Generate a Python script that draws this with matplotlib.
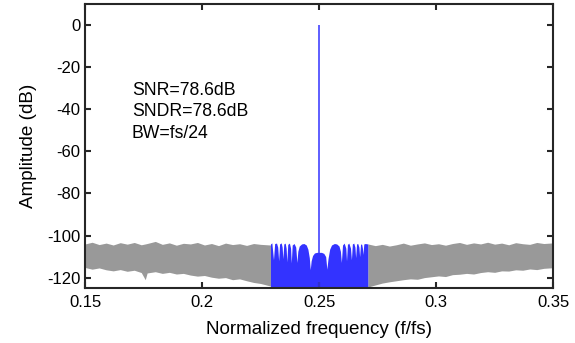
"""Output spectrum of the modulator: out-of-band noise in gray, signal band in blue."""

import matplotlib

matplotlib.use("Agg")

import matplotlib.pyplot as plt

plt.rcParams["font.family"] = ["Liberation Sans", "DejaVu Sans"]
plt.rcParams["axes.unicode_minus"] = False

# ---------------------------------------------------------------------------
# Data
# ---------------------------------------------------------------------------

# out-of-band noise, left of the signal band: upper / lower envelope (dB)
gray_left_f = [0.150, 0.153, 0.156, 0.159, 0.162, 0.165, 0.168, 0.171, 0.174, 0.1757,
               0.1765, 0.180, 0.183, 0.186, 0.189, 0.192, 0.195, 0.198, 0.201, 0.204,
               0.207, 0.210, 0.213, 0.216, 0.219, 0.222, 0.225, 0.2292]
gray_left_hi = [-104.0, -103.2, -104.3, -103.6, -104.5, -103.4, -104.1, -103.3, -104.4, -104.0,
                -103.8, -102.8, -104.2, -103.5, -104.6, -103.7, -104.0, -103.3, -104.5, -103.8,
                -104.8, -103.6, -104.3, -103.9, -104.7, -103.8, -104.2, -104.5]
gray_left_lo = [-115.2, -116.0, -115.4, -116.3, -116.8, -116.2, -117.0, -116.5, -117.6, -121.0,
                -117.8, -117.2, -118.0, -117.5, -118.3, -118.0, -118.8, -119.3, -119.0, -119.8,
                -120.3, -120.0, -121.0, -120.6, -121.5, -122.3, -122.8, -124.0]

# out-of-band noise, right of the signal band
gray_right_f = [0.2708, 0.274, 0.277, 0.280, 0.283, 0.286, 0.289, 0.292, 0.295, 0.298,
                0.301, 0.304, 0.307, 0.310, 0.313, 0.316, 0.319, 0.322, 0.325, 0.328,
                0.331, 0.334, 0.337, 0.340, 0.343, 0.346, 0.350]
gray_right_hi = [-104.0, -104.8, -104.2, -105.0, -104.4, -103.6, -104.6, -104.0, -103.5, -104.3,
                 -103.9, -104.6, -103.8, -103.3, -104.2, -103.5, -104.0, -103.2, -104.1, -103.6,
                 -104.4, -103.4, -103.9, -104.2, -103.3, -103.8, -103.5]
gray_right_lo = [-124.5, -123.5, -122.6, -122.0, -121.5, -121.0, -120.6, -120.8, -120.0, -119.6,
                 -119.2, -119.5, -118.6, -118.4, -118.0, -118.3, -117.6, -117.2, -117.5, -116.8,
                 -116.9, -116.3, -116.5, -115.9, -116.2, -115.6, -115.3]

# in-band spectrum (BW = fs/24 around fs/4): upper envelope of the noise lobes
band_f = [0.2292, 0.2298, 0.2305, 0.2310, 0.2318, 0.2323, 0.2327, 0.2331, 0.2338, 0.2342,
          0.2345, 0.2349, 0.2355, 0.2359, 0.2362, 0.2366, 0.2373, 0.2378, 0.2381, 0.2385,
          0.2393, 0.2400, 0.2405, 0.2409, 0.2415, 0.2425, 0.2435, 0.2445, 0.2452, 0.2458,
          0.2462, 0.2466, 0.2472, 0.2480, 0.2490, 0.2500, 0.2510, 0.2520, 0.2528, 0.2533,
          0.2538, 0.2545, 0.2553, 0.2565, 0.2575, 0.2585, 0.2591, 0.2595, 0.2600, 0.2607,
          0.2614, 0.2617, 0.2621, 0.2627, 0.2634, 0.2638, 0.2642, 0.2648, 0.2653, 0.2656,
          0.2660, 0.2665, 0.2670, 0.2673, 0.2677, 0.2682, 0.2685, 0.2687, 0.2691, 0.2697,
          0.2708]
band_db = [-104.0, -103.5, -111.5, -103.8, -103.6, -105.5, -112.0, -104.0, -103.5, -105.5,
           -111.0, -104.0, -103.6, -106.0, -112.5, -104.2, -103.6, -106.0, -113.0, -104.5,
           -103.8, -105.5, -112.8, -107.5, -105.0, -104.0, -103.8, -104.5, -106.5, -110.5,
           -116.2, -112.0, -109.5, -108.3, -108.0, -108.0, -108.0, -108.5, -110.0, -116.0,
           -111.0, -106.5, -104.5, -103.8, -104.0, -105.0, -107.5, -112.8, -104.5, -103.6,
           -106.0, -112.0, -104.2, -103.6, -106.0, -111.5, -104.0, -103.6, -105.5, -110.5,
           -104.0, -103.8, -105.5, -110.0, -104.0, -104.2, -106.0, -109.0, -104.0, -103.8,
           -104.0]

# signal tone
tone_f = 0.25
tone_db = 0.0

# annotation
labels = ["SNR=78.6dB", "SNDR=78.6dB", "BW=fs/24"]

xticks = [0.15, 0.2, 0.25, 0.3, 0.35]
xtick_labels = ["0.15", "0.2", "0.25", "0.3", "0.35"]
yticks = [0, -20, -40, -60, -80, -100, -120]

# ---------------------------------------------------------------------------
# Plot
# ---------------------------------------------------------------------------

GRAY = "#999999"
BLUE = "#3333ff"
FLOOR = -140

fig = plt.figure(figsize=(5.75, 3.43), dpi=100)
ax = fig.add_axes([0.148, 0.160, 0.814, 0.828])

ax.fill_between(gray_left_f, gray_left_lo, gray_left_hi, color=GRAY, linewidth=0)
ax.fill_between(gray_right_f, gray_right_lo, gray_right_hi, color=GRAY, linewidth=0)
ax.fill_between(band_f, FLOOR, band_db, color=BLUE, linewidth=0)
ax.vlines(tone_f, FLOOR, tone_db, color=BLUE, linewidth=1.1)

for i, txt in enumerate(labels):
    ax.text(0.1700, -31 - 10.2 * i, txt, fontsize=12.7, va="center", ha="left")

ax.set_xlim(0.15, 0.35)
ax.set_ylim(-125, 10)
ax.set_xticks(xticks)
ax.set_xticklabels(xtick_labels)
ax.set_yticks(yticks)
ax.set_yticklabels([str(v) for v in yticks])

ax.set_xlabel("Normalized frequency (f/fs)", fontsize=13.6, labelpad=8)
ax.set_ylabel("Amplitude (dB)", fontsize=13.6, labelpad=7)

for sp in ax.spines.values():
    sp.set_linewidth(1.5)
    sp.set_color("#262626")
ax.tick_params(direction="in", top=True, right=True, length=4, width=1.5,
               color="#262626", labelsize=12)
ax.tick_params(axis="x", pad=5)
ax.tick_params(axis="y", pad=3.5)

fig.savefig("out.png", dpi=100)
plt.close(fig)
